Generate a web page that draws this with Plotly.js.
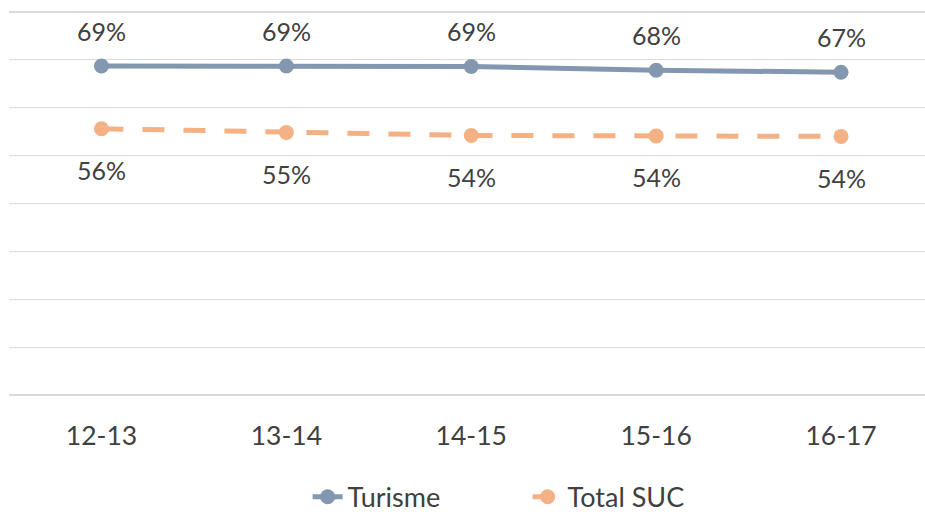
<!DOCTYPE html>
<html>
<head>
<meta charset="utf-8">
<script src="https://cdn.plot.ly/plotly-3.0.1.min.js"></script>
<style>html,body{margin:0;padding:0;background:#fff;}#chart{width:925px;height:512px;}</style>
</head>
<body>
<div id="chart"></div>
<script>
const categories = ["12-13", "13-14", "14-15", "15-16", "16-17"];
const turisme = [68.7, 68.7, 68.6, 67.8, 67.4];
const totalSUC = [55.6, 54.8, 54.2, 54.1, 54.0];
const seriesNames = ["Turisme", "Total SUC"];

const FONT = "Lato, 'Open Sans', sans-serif";
const TXT = "#404040";
const C1 = "#8497B0";
const C2 = "#F4B183";

const traces = [
  {
    x: categories, y: turisme, name: seriesNames[0], type: "scatter", mode: "lines+markers",
    line: {color: C1, width: 5}, marker: {color: C1, size: 15}, hoverinfo: "skip"
  },
  {
    x: categories, y: totalSUC, name: seriesNames[1], type: "scatter", mode: "lines+markers",
    line: {color: C2, width: 5, dash: "22px,19px"}, marker: {color: C2, size: 15}, hoverinfo: "skip"
  }
];

const annotations = [];
categories.forEach((c, i) => {
  annotations.push({x: c, y: turisme[i], xref: "x", yref: "y", text: Math.round(turisme[i]) + "%",
    showarrow: false, yshift: 35, yanchor: "middle", font: {family: FONT, size: 25, color: TXT}});
  annotations.push({x: c, y: totalSUC[i], xref: "x", yref: "y", text: Math.round(totalSUC[i]) + "%",
    showarrow: false, yshift: -41.5, yanchor: "middle", font: {family: FONT, size: 25, color: TXT}});
});

const layout = {
  width: 925, height: 512,
  margin: {l: 9, r: 0, t: 7.21, b: 112.21, autoexpand: false},
  paper_bgcolor: "#fff", plot_bgcolor: "#fff",
  showlegend: true,
  legend: {orientation: "h", x: 0.326, xanchor: "left", yref: "container", y: 0.029, yanchor: "middle",
    font: {family: FONT, size: 27, color: TXT}, itemwidth: 30, tracegroupgap: 0, entrywidth: 175},
  xaxis: {type: "category", range: [-0.5, 4.454], showgrid: false, zeroline: false, showline: false,
    ticks: "", ticklabelstandoff: 17, tickfont: {family: FONT, size: 26.5, color: TXT}, fixedrange: true},
  yaxis: {range: [-1, 81], dtick: 10, tick0: 0, showgrid: true, gridcolor: "#D9D9D9", gridwidth: 1.5,
    zeroline: false, showline: false, showticklabels: false, ticks: "", fixedrange: true},
  annotations: annotations,
  font: {family: FONT, color: TXT}
};

Plotly.newPlot("chart", traces, layout, {displayModeBar: false, staticPlot: true});
</script>
</body>
</html>
